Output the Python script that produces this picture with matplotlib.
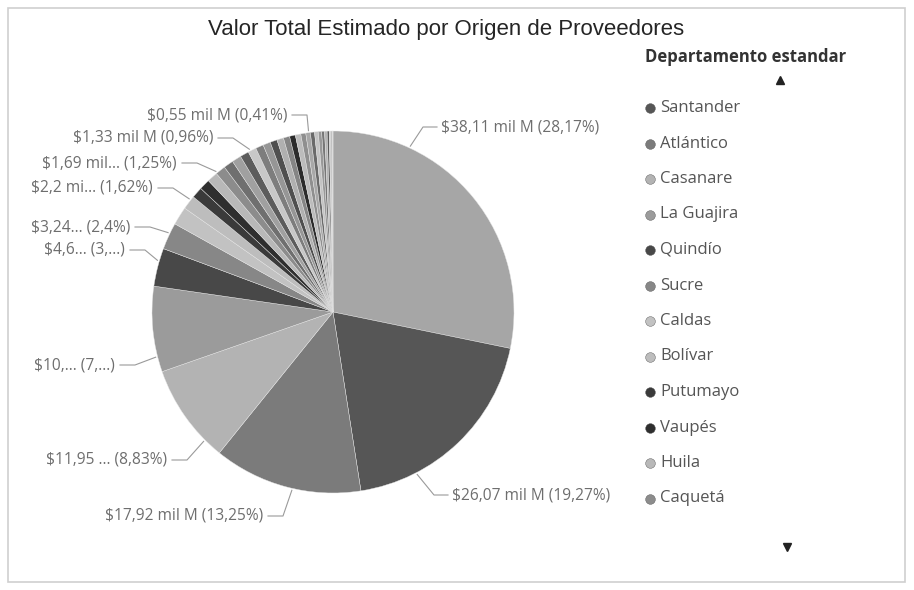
import numpy as np
import matplotlib.pyplot as plt

# values in "mil M" (read from labels; unlabeled thin slices estimated)
values = [38.11, 26.07, 17.92, 11.95, 10.3, 4.6, 3.24, 2.2, 1.69, 1.33,
          1.30, 1.27, 1.22, 1.18, 1.12, 1.06, 1.0, 0.95, 0.9, 0.85, 0.8,
          0.75, 0.7, 0.66, 0.6, 0.55, 0.5, 0.45, 0.4, 0.35, 0.3, 0.25,
          0.2, 0.12, 0.08, 0.05]

colors = ['#a6a6a6', '#565656', '#7b7b7b', '#b3b3b3', '#9b9b9b', '#484848',
          '#878787', '#c2c2c2', '#bdbdbd', '#3a3a3a', '#2e2e2e', '#b8b8b8',
          '#8c8c8c',
          '#6f6f6f', '#a0a0a0', '#5c5c5c', '#c8c8c8', '#7d7d7d', '#969696',
          '#4f4f4f', '#b0b0b0', '#858585', '#2b2b2b', '#bcbcbc', '#8f8f8f',
          '#a8a8a8', '#6a6a6a', '#c4c4c4', '#999999', '#777777', '#b5b5b5',
          '#5a5a5a', '#cfcfcf', '#8a8a8a', '#a3a3a3', '#c0c0c0']

# legend entries visible in the (scrolled) legend, slices 2..13
legend_names = ['Santander', 'Atlántico', 'Casanare', 'La Guajira', 'Quindío',
                'Sucre', 'Caldas', 'Bolívar', 'Putumayo', 'Vaupés', 'Huila',
                'Caquetá']

labels = ['$38,11 mil M (28,17%)', '$26,07 mil M (19,27%)',
          '$17,92 mil M (13,25%)', '$11,95 ... (8,83%)', '$10,... (7,...)',
          '$4,6... (3,...)', '$3,24... (2,4%)', '$2,2 mi... (1,62%)',
          '$1,69 mil... (1,25%)', '$1,33 mil M (0,96%)', '$0,55 mil M (0,41%)']

# layout of the data labels (pixel positions, leader anchor angle)
label_pos = [(441, 127, 'left'), (452, 495, 'left'), (263, 516, 'right'),
             (167, 460, 'right'), (115, 365, 'right'), (125, 250, 'right'),
             (130, 227, 'right'), (153, 188, 'right'), (177, 163, 'right'),
             (213, 138, 'right'), (287, 115, 'right')]
anchor_deg = [25, 152.6, 193, 225, 255.7, 286.4, 295.7, 308.2, 320.2,
              332.8, 352.3]

cx, cy, r = 333, 312, 181

fig = plt.figure(figsize=(9.14, 5.9), dpi=100)
ax = fig.add_axes([0, 0, 1, 1])

wedges, _ = ax.pie(values, colors=colors, startangle=-90, counterclock=True,
                   center=(cx, cy), radius=r,
                   wedgeprops=dict(edgecolor='#e6e6e6', linewidth=0.3))
ax.set_xlim(0, 914)
ax.set_ylim(590, 0)
ax.axis('off')

# frame
ax.add_patch(plt.Rectangle((8, 8), 897, 574, fill=False, edgecolor='#cfcfcf',
                           linewidth=1.2))

ax.text(446, 30, 'Valor Total Estimado por Origen de Proveedores',
        fontsize=16, family='Liberation Sans', color='#252525',
        ha='center', va='center')

lab_font = ['Open Sans', 'DejaVu Sans']
for txt, (tx, ty, side), a in zip(labels, label_pos, anchor_deg):
    ar = np.radians(a)
    px = cx + (r + 2) * np.sin(ar)
    py = cy - (r + 2) * np.cos(ar)
    if side == 'right':
        x0, x1 = tx + 5, tx + 20
    else:
        x0, x1 = tx - 4, tx - 18
    ax.plot([x0, x1, px], [ty, ty, py], color='#9a9a9a', lw=0.8)
    ax.text(tx, ty, txt, ha=side, va='center', fontsize=11.2,
            family=lab_font, color='#6e6e6e')

# legend
ax.text(746, 57, 'Departamento estandar', fontsize=12, fontweight='bold',
        family=lab_font, color='#333333', ha='center', va='center')
ax.plot(780, 80, marker='^', ms=6, color='#222222')
ax.plot(787, 547, marker='v', ms=6, color='#222222')
for i, name in enumerate(legend_names):
    y = 108 + i * 35.5
    w = wedges[i + 1]
    ax.plot(650, y, marker='o', ms=7, color=w.get_facecolor(),
            markeredgecolor='#555555', markeredgewidth=0.3)
    ax.text(660, y, name, fontsize=12, family=lab_font, color='#555555',
            ha='left', va='center')

fig.savefig('out.png', dpi=100)
